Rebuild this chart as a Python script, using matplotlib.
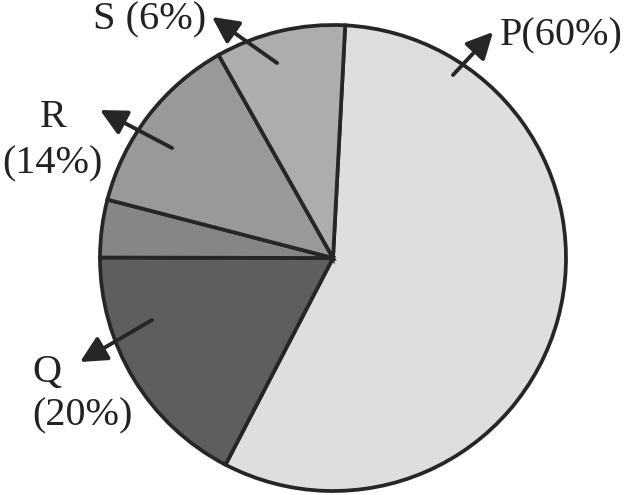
import matplotlib

matplotlib.use("Agg")
import matplotlib.pyplot as plt

shares = [56.8, 17.4, 4.0, 12.8, 9.0]
colors = ["#dedede", "#5e5e5e", "#868686", "#999999", "#adadad"]

# printed labels (text as in the figure)
label_p = "P(60%)"
label_q = ["Q", "(20%)"]
label_r = ["R", "(14%)"]
label_s = "S (6%)"

W, H = 627, 495
EDGE = "#262626"


def px(x, y):
    """Pixel coords with origin at top-left -> axes coords (y up)."""
    return x, H - y


fig = plt.figure(figsize=(W / 100, H / 100), dpi=100)
ax = fig.add_axes([0, 0, 1, 1])

ax.pie(
    shares,
    colors=colors,
    startangle=87,
    counterclock=False,
    center=px(333, 258),
    radius=233,
    wedgeprops=dict(edgecolor=EDGE, linewidth=2.7),
)
ax.set_xlim(0, W)
ax.set_ylim(0, H)
ax.set_aspect("equal")
ax.axis("off")

font = dict(family="Liberation Serif", size=29, color="#222222")

arrows = [
    ((277, 63), (212, 17)),
    ((172, 148), (100, 110)),
    ((152, 320), (80, 362)),
    ((453, 75), (493, 32)),
]
for tail, tip in arrows:
    ax.annotate(
        "",
        xy=px(*tip),
        xytext=px(*tail),
        arrowprops=dict(
            arrowstyle="-|>,head_length=0.8,head_width=0.4",
            mutation_scale=20,
            lw=2.8,
            color=EDGE,
            shrinkA=0,
            shrinkB=0,
        ),
    )

ax.text(*px(150, 29), label_s, ha="center", va="baseline", **font)
ax.text(*px(53, 127), label_r[0], ha="center", va="baseline", **font)
ax.text(*px(52, 173), label_r[1], ha="center", va="baseline", **font)
ax.text(*px(32, 382), label_q[0], ha="left", va="baseline", **font)
ax.text(*px(32, 425), label_q[1], ha="left", va="baseline", **font)
ax.text(*px(500, 45), label_p, ha="left", va="baseline", **font)

fig.savefig("out.png", dpi=100)
